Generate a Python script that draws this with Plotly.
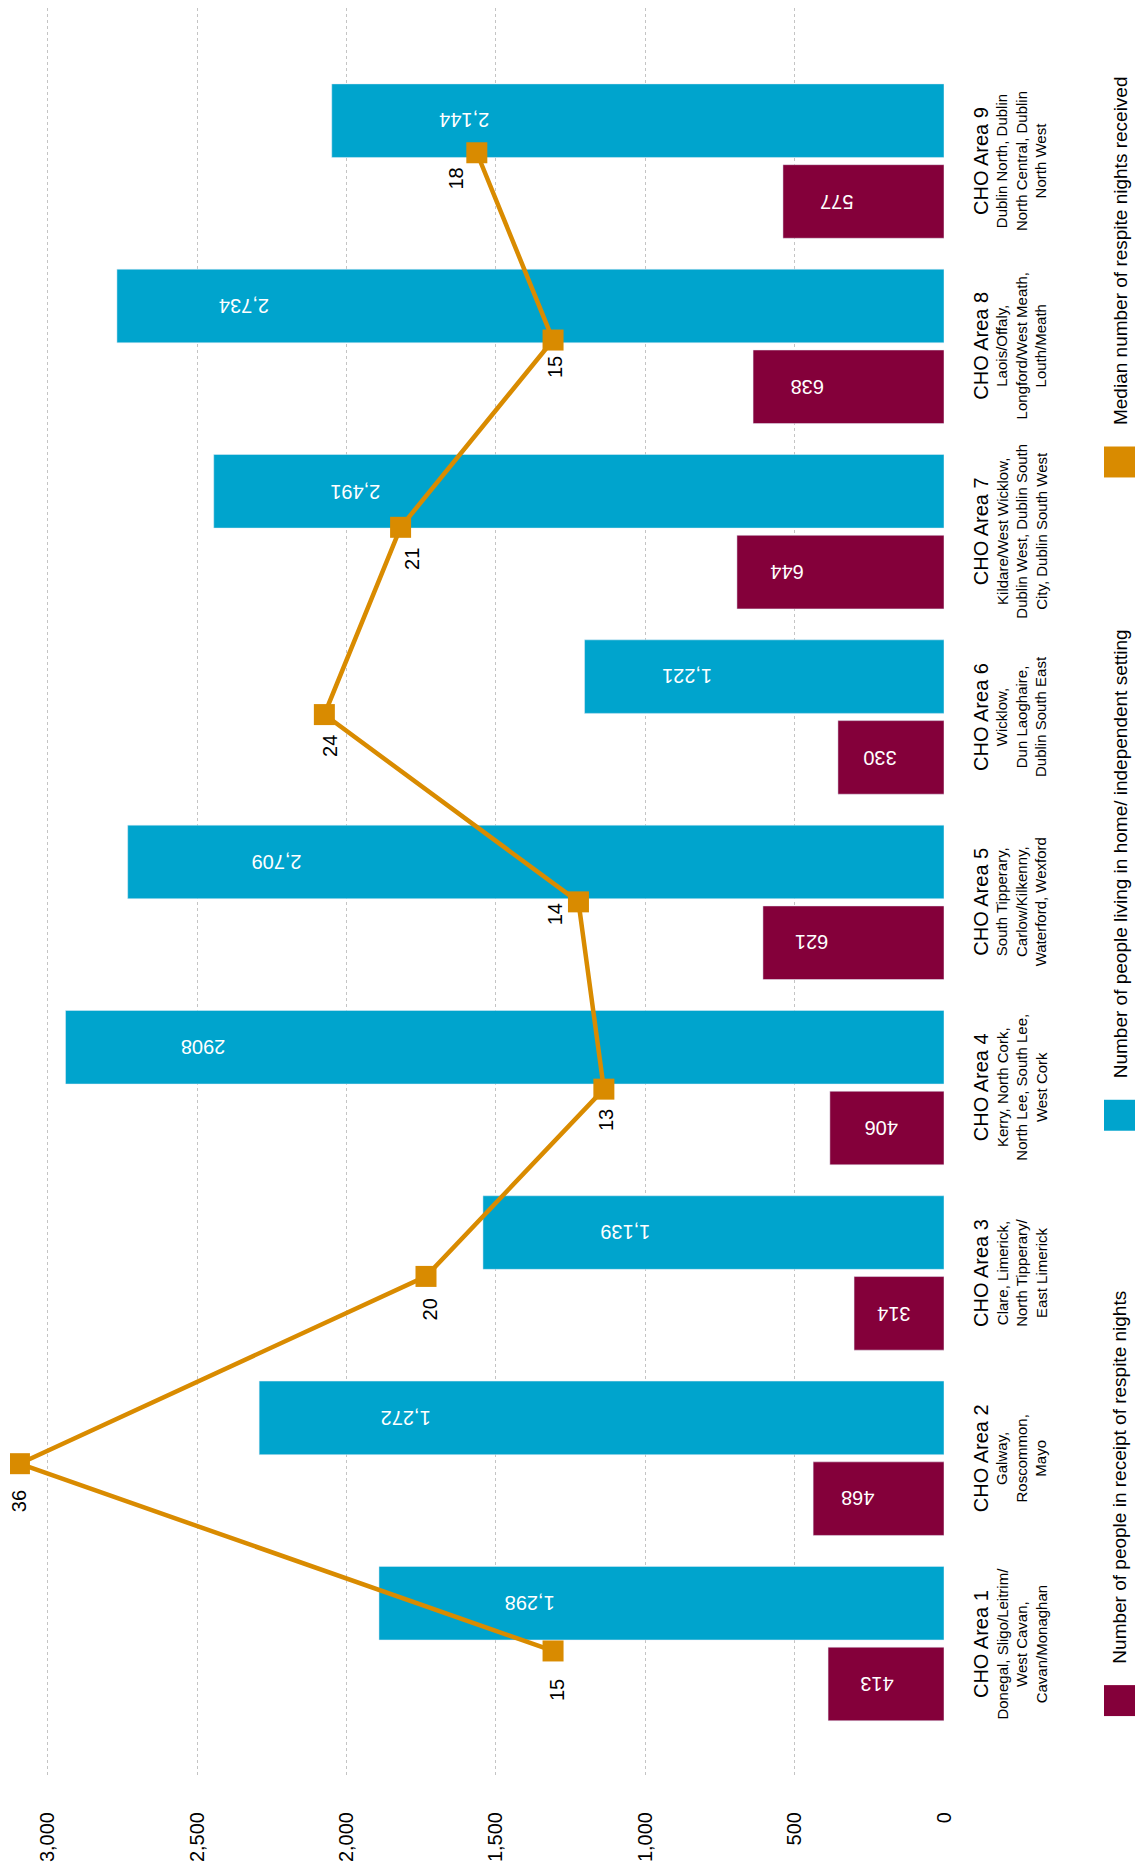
import plotly.graph_objects as go

# ---------------- data ----------------
areas = ["CHO Area 1", "CHO Area 2", "CHO Area 3", "CHO Area 4", "CHO Area 5",
         "CHO Area 6", "CHO Area 7", "CHO Area 8", "CHO Area 9"]
area_regions = [
    ["Donegal, Sligo/Leitrim/", "West Cavan,", "Cavan/Monaghan"],
    ["Galway,", "Roscommon,", "Mayo"],
    ["Clare, Limerick,", "North Tipperary/", "East Limerick"],
    ["Kerry, North Cork,", "North Lee, South Lee,", "West Cork"],
    ["South Tipperary,", "Carlow/Kilkenny,", "Waterford, Wexford"],
    ["Wicklow,", "Dun Laoghaire,", "Dublin South East"],
    ["Kildare/West Wicklow,", "Dublin West, Dublin South", "City, Dublin South West"],
    ["Laois/Offaly,", "Longford/West Meath,", "Louth/Meath"],
    ["Dublin North, Dublin", "North Central, Dublin", "North West"],
]
# bar lengths as drawn in the picture
respite_people = [388, 438, 301, 382, 606, 355, 693, 639, 539]
home_people = [1891, 2292, 1543, 2940, 2732, 1203, 2444, 2768, 2049]
# printed value labels
respite_labels = ["413", "468", "314", "406", "621", "330", "644", "638", "577"]
home_labels = ["1,298", "1,272", "1,139", "2908", "2,709", "1,221", "2,491", "2,734", "2,144"]
# where the printed labels sit along the value axis
respite_label_pos = [223, 287, 168, 211, 443, 213, 524, 457, 359]
home_label_pos = [1386, 1801, 1067, 2481, 2233, 860, 1969, 2341, 1606]
# median respite nights
median_nights = [15, 36, 20, 13, 14, 24, 21, 15, 18]
median_label_dx = [4, -1, 4, 2, -24, 5, 12, 2, -21]
median_label_dy = [39, 37, 33, 31, 12, 31, 32, 27, 26]

legend_names = ["Number of people in receipt of respite nights",
                "Number of people living in home/ independent setting",
                "Median number of respite nights received"]
tick_vals = [0, 500, 1000, 1500, 2000, 2500, 3000]
tick_text = ["0", "500", "1,000", "1,500", "2,000", "2,500", "3,000"]

# ---------------- style ----------------
RED = "#84003A"
BLUE = "#00A4CD"
ORANGE = "#D98B00"
FONT = "Liberation Sans, Arial, sans-serif"
W, H = 1143, 1870
PL, PR, PT, PB = 10, 944, 8, 1779
PW, PH = PR - PL, PB - PT
BAR_W = 0.397
HALF_GAP = 0.0195

def pxx(px):
    return (px - PL) / PW

def pxy(py):
    return (PB - py) / PH

idx = list(range(len(areas)))

fig = go.Figure()
fig.add_trace(go.Bar(
    x=respite_people, y=idx, orientation="h", marker_color=RED,
    width=BAR_W, offset=-HALF_GAP - BAR_W, name=legend_names[0],
    hoverinfo="x"))
fig.add_trace(go.Bar(
    x=home_people, y=idx, orientation="h", marker_color=BLUE,
    width=BAR_W, offset=HALF_GAP, name=legend_names[1],
    hoverinfo="x"))
fig.add_trace(go.Scatter(
    x=median_nights, y=idx, xaxis="x2", yaxis="y2", mode="lines+markers",
    line=dict(color=ORANGE, width=4.5),
    marker=dict(symbol="square", size=21, color=ORANGE),
    name=legend_names[2]))

annotations = []
for i in idx:
    # bar value labels (upside down)
    annotations.append(dict(
        x=respite_label_pos[i], y=i - HALF_GAP - BAR_W / 2, xref="x", yref="y",
        text=respite_labels[i], textangle=180, showarrow=False,
        font=dict(family=FONT, size=20, color="white"),
        xanchor="center", yanchor="middle"))
    annotations.append(dict(
        x=home_label_pos[i], y=i + HALF_GAP + BAR_W / 2, xref="x", yref="y",
        text=home_labels[i], textangle=180, showarrow=False,
        font=dict(family=FONT, size=20, color="white"),
        xanchor="center", yanchor="middle"))
    # median labels
    annotations.append(dict(
        x=median_nights[i], y=i, xref="x2", yref="y2",
        text=str(median_nights[i]), textangle=-90, showarrow=False,
        font=dict(family=FONT, size=20, color="black"),
        xanchor="center", yanchor="middle",
        xshift=median_label_dx[i], yshift=-median_label_dy[i]))
    # category labels
    sub = "<br>".join(area_regions[i])
    annotations.append(dict(
        x=pxx(968), y=i, xref="paper", yref="y",
        text=f"<span style='font-size:20px'>{areas[i]}</span><br>{sub}",
        textangle=-90, showarrow=False, align="center",
        font=dict(family=FONT, size=15, color="black"),
        xanchor="left", yanchor="middle"))

# manual rotated legend
shapes = []
legend_sq = [(1687, RED), (1101, BLUE), (447, ORANGE)]
for (top, col), name in zip(legend_sq, legend_names):
    shapes.append(dict(type="rect", xref="paper", yref="paper",
                       x0=pxx(1104), x1=pxx(1135), y0=pxy(top + 31), y1=pxy(top),
                       fillcolor=col, line=dict(width=0)))
    annotations.append(dict(
        x=pxx(1120), y=pxy(top - 19), xref="paper", yref="paper",
        text=name, textangle=-90, showarrow=False,
        font=dict(family=FONT, size=19, color="black"),
        xanchor="center", yanchor="bottom"))

fig.update_layout(
    width=W, height=H, margin=dict(l=PL, r=W - PR, t=PT, b=H - PB),
    paper_bgcolor="white", plot_bgcolor="white",
    showlegend=False, barmode="overlay",
    font=dict(family=FONT, size=20, color="black"),
    xaxis=dict(range=[PW / 0.2988, 0], tickvals=tick_vals, ticktext=tick_text,
               tickangle=-90, showgrid=True, gridcolor="#c4c4c4", griddash="dot",
               gridwidth=1, zeroline=False, showline=False, ticks="",
               ticklabelstandoff=30, tickfont=dict(family=FONT, size=20, color="black")),
    xaxis2=dict(range=[(934.2 - PL) / 25.41, (934.2 - PR) / 25.41], overlaying="x",
                visible=False),
    yaxis=dict(range=[-0.72, 8.826], showgrid=False, zeroline=False,
               showticklabels=False, ticks=""),
    yaxis2=dict(range=[-0.673, 8.773], overlaying="y", visible=False),
    annotations=annotations, shapes=shapes,
)

fig.write_html("out.html", config={"displayModeBar": False},
               post_script="document.body.style.margin='0';document.body.style.overflow='hidden';")
